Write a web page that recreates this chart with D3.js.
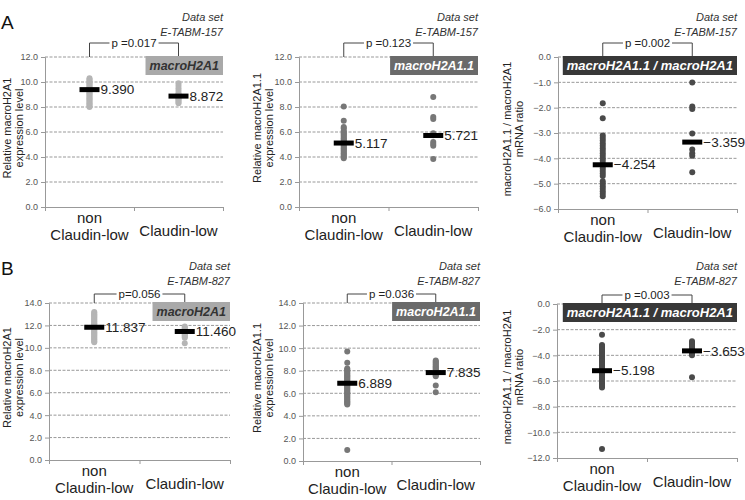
<!DOCTYPE html>
<html>
<head>
<meta charset="utf-8">
<script src="https://cdn.jsdelivr.net/npm/d3@7"></script>
<style>
  body { margin: 0; background: #fff; }
  svg { font-family: "Liberation Sans", Arial, sans-serif; }
</style>
</head>
<body>
<div id="chart"></div>
<script>
// values
const groups = ["non Claudin-low", "Claudin-low"];
const dataSets = ["E-TABM-157", "E-TABM-827"];
const markers = ["macroH2A1", "macroH2A1.1", "macroH2A1.1 / macroH2A1"];
const pValues = ["p =0.017", "p =0.123", "p =0.002", "p=0.056", "p =0.036", "p =0.003"];

const ticksA = [0, 2, 4, 6, 8, 10, 12];
const ticksARatio = [-6, -5, -4, -3, -2, -1, 0];
const ticksB = [0, 2, 4, 6, 8, 10, 12, 14];
const ticksBRatio = [-12, -10, -8, -6, -4, -2, 0];

const a1Non = [10.3, 10.2, 10.1, 10.0, 9.9, 9.8, 9.7, 9.6, 9.5, 9.45, 9.4, 9.35, 9.3, 9.2, 9.1, 9.0, 8.9, 8.8, 8.7, 8.6, 8.5, 8.4, 8.3, 8.2, 8.1, 8.0];
const a1Cl = [9.9, 9.7, 9.5, 9.3, 9.1, 9.0, 8.9, 8.8, 8.7, 8.6, 8.5, 8.4, 8.3];
const a1Means = [9.390, 8.872];

const a2Non = [8.05, 6.9, 6.4, 6.3, 6.1, 6.0, 5.9, 5.8, 5.7, 5.6, 5.5, 5.4, 5.3, 5.2, 5.1, 5.0, 4.9, 4.8, 4.7, 4.6, 4.5, 4.4, 4.3, 4.2, 4.1, 4.0, 3.9];
const a2Cl = [8.8, 7.2, 7.05, 5.9, 5.75, 5.2, 5.05, 4.9, 3.85];
const a2Means = [5.117, 5.721];

const a3Non = [-1.83, -2.42, -3.1, -3.2, -3.3, -3.4, -3.5, -3.6, -3.7, -3.8, -3.9, -4.0, -4.1, -4.2, -4.3, -4.4, -4.5, -4.6, -4.7, -4.9, -5.0, -5.1, -5.2, -5.3, -5.4, -5.5];
const a3Cl = [-1.01, -1.95, -2.05, -3.02, -3.65, -3.8, -3.9, -4.55];
const a3Means = [-4.254, -3.359];

const b1Non = [13.2, 13.1, 13.0, 12.9, 12.8, 12.7, 12.6, 12.5, 12.4, 12.3, 12.2, 12.1, 12.0, 11.9, 11.8, 11.7, 11.6, 11.5, 11.4, 11.3, 11.2, 11.1, 11.0, 10.9, 10.8, 10.7, 10.6, 10.5];
const b1Cl = [11.9, 11.8, 11.7, 11.6, 11.5, 11.4, 11.3, 11.2, 11.1, 11.0, 10.9, 10.4];
const b1Means = [11.837, 11.460];

const b2Non = [9.7, 8.7, 8.2, 8.1, 8.0, 7.9, 7.8, 7.7, 7.6, 7.5, 7.4, 7.3, 7.2, 7.1, 7.0, 6.9, 6.8, 6.7, 6.6, 6.5, 6.4, 6.3, 6.2, 6.1, 6.0, 5.9, 5.8, 5.7, 5.6, 5.5, 5.4, 5.3, 5.2, 5.1, 5.0, 0.97];
const b2Cl = [8.9, 8.8, 8.7, 8.6, 8.5, 8.4, 8.3, 8.2, 8.1, 8.0, 7.9, 7.8, 7.7, 7.6, 7.5, 6.7, 6.1];
const b2Means = [6.889, 7.835];

const b3Non = [-2.4, -3.2, -3.3, -3.4, -3.5, -3.6, -3.7, -3.8, -3.9, -4.0, -4.1, -4.2, -4.3, -4.4, -4.5, -4.6, -4.7, -4.8, -4.9, -5.0, -5.1, -5.2, -5.3, -5.4, -5.5, -5.6, -5.7, -5.8, -5.9, -6.0, -6.1, -6.2, -6.3, -6.4, -6.5, -11.3];
const b3Cl = [-2.9, -3.0, -3.1, -3.2, -3.3, -3.4, -3.5, -3.6, -3.7, -3.8, -3.9, -4.0, -5.7];
const b3Means = [-5.198, -3.653];

const yLabels = [
  ["Relative macroH2A1", "expression level"],
  ["Relative macroH2A1.1", "expression level"],
  ["macroH2A1.1 / macroH2A1", "mRNA ratio"]
];

// panel frames (pixels) + styling
const panels = [
  {x0: 45, x1: 223, yTop: 57, yBot: 207, lx: 11, dom: [0, 12], ticks: ticksA, pts: [a1Non, a1Cl], means: a1Means, kind: 0, row: 0},
  {x0: 299, x1: 478, yTop: 57, yBot: 207, lx: 261, dom: [0, 12], ticks: ticksA, pts: [a2Non, a2Cl], means: a2Means, kind: 1, row: 0},
  {x0: 558, x1: 737, yTop: 57, yBot: 209, lx: 511, dom: [-6, 0], ticks: ticksARatio, pts: [a3Non, a3Cl], means: a3Means, kind: 2, row: 0},
  {x0: 49, x1: 230, yTop: 303, yBot: 460, lx: 11, dom: [0, 14], ticks: ticksB, pts: [b1Non, b1Cl], means: b1Means, kind: 0, row: 1},
  {x0: 303, x1: 480, yTop: 303, yBot: 461, lx: 261, dom: [0, 14], ticks: ticksB, pts: [b2Non, b2Cl], means: b2Means, kind: 1, row: 1},
  {x0: 557, x1: 737, yTop: 304, yBot: 458, lx: 511, dom: [-12, 0], ticks: ticksBRatio, pts: [b3Non, b3Cl], means: b3Means, kind: 2, row: 1}
];

const dotColor = ["#b5b5b5", "#777", "#4a4a4a"];
const boxFill = ["#a9a9a9", "#6a6a6a", "#383838"];
const boxText = ["#333", "#fff", "#fff"];

const svg = d3.select("#chart").append("svg")
  .attr("width", 745).attr("height", 500);

svg.append("text").attr("x", 1).attr("y", 29).attr("font-size", 19).attr("fill", "#111").text("A");
svg.append("text").attr("x", 1).attr("y", 275).attr("font-size", 19).attr("fill", "#111").text("B");

panels.forEach((p, i) => {
  let g = svg.append("g");
  let y = d3.scaleLinear().domain(p.dom).range([p.yBot, p.yTop]);
  let x = d3.scaleBand().domain(groups).range([p.x0, p.x1]);
  let cx = (k) => x(groups[k]) + x.bandwidth() / 2;

  // grid lines
  g.selectAll(".grid").data(p.ticks.filter(t => y(t) !== p.yBot))
    .enter().append("line")
      .attr("x1", p.x0).attr("x2", p.x1)
      .attr("y1", d => y(d)).attr("y2", d => y(d))
      .attr("stroke", "#999").attr("stroke-width", 1)
      .attr("stroke-dasharray", "3,1.5");

  // y axis
  let yAxis = d3.axisLeft(y).tickValues(p.ticks).tickFormat(d3.format(".1f")).tickSize(4);
  let ya = g.append("g").attr("transform", "translate(" + p.x0 + ",0)").call(yAxis);
  ya.select(".domain").attr("stroke", "#999");
  ya.selectAll(".tick line").attr("stroke", "#999");
  ya.selectAll(".tick text").attr("font-size", 9).attr("fill", "#555")
    .attr("font-family", "Liberation Sans, Arial, sans-serif");

  // x axis
  let xa = g.append("g").attr("transform", "translate(0," + p.yBot + ")")
    .call(d3.axisBottom(d3.scaleLinear().domain([0, 2]).range([p.x0, p.x1])).tickValues([0, 1, 2]).tickSize(4).tickFormat(""));
  xa.select(".domain").attr("stroke", "#999");
  xa.selectAll(".tick line").attr("stroke", "#999");

  // x labels
  g.append("text").attr("x", cx(0)).attr("y", p.yBot + 16).attr("text-anchor", "middle")
    .attr("font-size", 15).attr("fill", "#222").text("non");
  g.append("text").attr("x", cx(0)).attr("y", p.yBot + 33).attr("text-anchor", "middle")
    .attr("font-size", 15).attr("fill", "#222").text("Claudin-low");
  g.append("text").attr("x", cx(1)).attr("y", p.yBot + 29).attr("text-anchor", "middle")
    .attr("font-size", 15).attr("fill", "#222").text(groups[1]);

  // y label
  let lab = yLabels[p.kind];
  let ymid = (p.yTop + p.yBot) / 2 - 4;
  lab.forEach((t, j) => {
    g.append("text")
      .attr("transform", "translate(" + (p.lx + j * 12) + "," + ymid + ") rotate(-90)")
      .attr("text-anchor", "middle").attr("font-size", 11).attr("fill", "#222")
      .text(t);
  });

  // data set note
  g.append("text").attr("x", p.x1).attr("y", p.row === 0 ? 21 : 270).attr("text-anchor", "end")
    .attr("font-size", 11).attr("font-style", "italic").attr("fill", "#333").text("Data set");
  g.append("text").attr("x", p.x1).attr("y", p.row === 0 ? 36 : 285).attr("text-anchor", "end")
    .attr("font-size", 11).attr("font-style", "italic").attr("fill", "#333").text(dataSets[p.row]);

  // p-value bracket
  let bt = p.row === 0 ? p.yTop - 14 : p.yTop - 9;
  g.append("path")
    .attr("d", "M" + cx(0) + "," + p.yTop + "V" + bt + "H" + cx(1) + "V" + p.yTop)
    .attr("fill", "none").attr("stroke", "#444").attr("stroke-width", 1);
  let pt = g.append("text").attr("x", (cx(0) + cx(1)) / 2).attr("y", bt + 4)
    .attr("text-anchor", "middle").attr("font-size", 11.5).attr("fill", "#222").text(pValues[i]);
  let bb = pt.node().getBBox();
  g.insert("rect", () => pt.node())
    .attr("x", bb.x - 2).attr("y", bt - 2).attr("width", bb.width + 4).attr("height", 4)
    .attr("fill", "#fff");

  // points
  p.pts.forEach((vals, k) => {
    g.selectAll(".pt" + k).data(vals).enter().append("circle")
      .attr("class", "pt" + k)
      .attr("cx", cx(k)).attr("cy", d => y(d)).attr("r", 3)
      .attr("fill", dotColor[p.kind]);
  });

  // means
  p.means.forEach((m, k) => {
    g.append("rect").attr("x", cx(k) - 10).attr("y", y(m) - 2.5)
      .attr("width", 20).attr("height", 5).attr("fill", "#000");
    g.append("text").attr("x", cx(k) + 11).attr("y", y(m)).attr("dy", "0.35em")
      .attr("font-size", 13.5).attr("fill", "#222").text(d3.format(".3f")(m));
  });

  // marker box
  let fs = p.kind === 2 ? 13 : 12.5;
  let mt = g.append("text").attr("font-size", fs).attr("font-weight", "bold").attr("font-style", "italic")
    .attr("fill", boxText[p.kind]).attr("text-anchor", "end").text(markers[p.kind]);
  let tw = mt.node().getComputedTextLength();
  let bh = 19;
  let by = p.yTop - 1;
  g.insert("rect", () => mt.node())
    .attr("x", p.x1 - tw - 8).attr("y", by).attr("width", tw + 8).attr("height", bh)
    .attr("fill", boxFill[p.kind]);
  mt.attr("x", p.x1 - 4).attr("y", by + bh / 2).attr("dy", "0.36em");
});
</script>
</body>
</html>
